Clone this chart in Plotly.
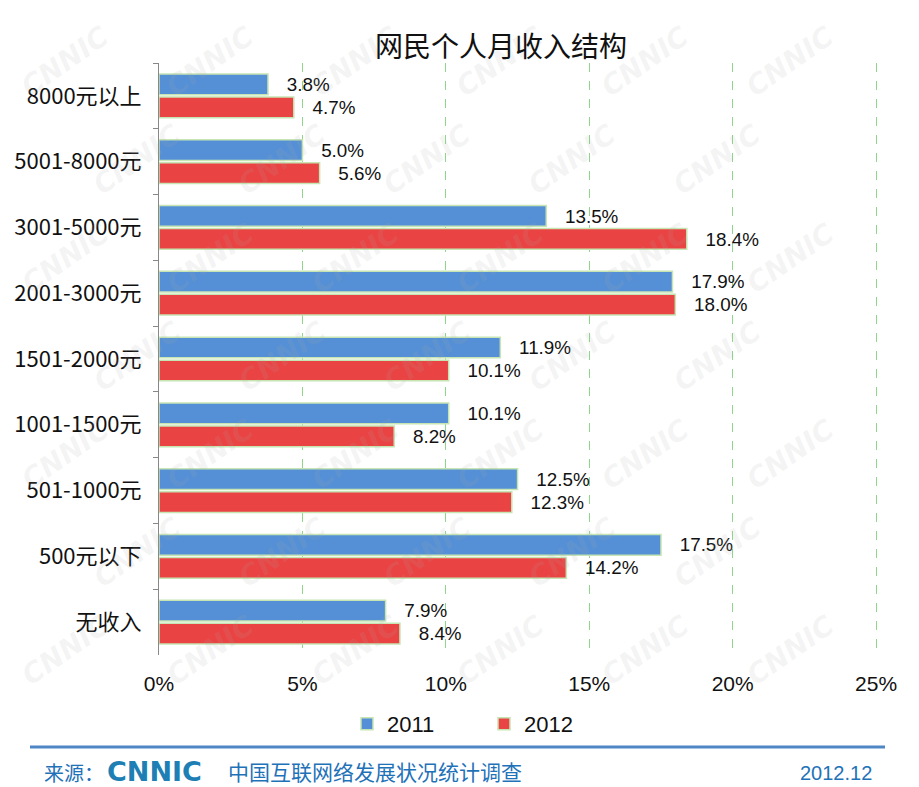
import plotly.graph_objects as go

categories = ["8000元以上", "5001-8000元", "3001-5000元", "2001-3000元", "1501-2000元",
              "1001-1500元", "501-1000元", "500元以下", "无收入"]
values_2011 = [3.8, 5.0, 13.5, 17.9, 11.9, 10.1, 12.5, 17.5, 7.9]
values_2012 = [4.7, 5.6, 18.4, 18.0, 10.1, 8.2, 12.3, 14.2, 8.4]
tick_vals = [0, 5, 10, 15, 20, 25]
tick_text = ["0%", "5%", "10%", "15%", "20%", "25%"]

# page body has an 8px margin; the figure is sized to fill the rest
OFF = 8
W, H = 919 - OFF, 787 - OFF
PL, PR, PT, PB = 159, 879, 63, 655  # plot area in screen pixels


def px(X):
    return (X - PL) / (PR - PL)


def py(Y):
    return (PB - Y) / (PB - PT)


fig = go.Figure()
outline = "#c6e5b3"
lab_font = dict(size=20, color="#111", family="Liberation Sans, Arial")
fig.add_trace(go.Bar(
    name="2011", y=categories, x=values_2011, orientation="h",
    marker=dict(color="#5590d6", line=dict(color=outline, width=1.5)),
    text=[f"   {v:.1f}%" for v in values_2011], textposition="outside",
    textfont=lab_font, cliponaxis=False,
))
fig.add_trace(go.Bar(
    name="2012", y=categories, x=values_2012, orientation="h",
    marker=dict(color="#ea4343", line=dict(color=outline, width=1.5)),
    text=[f"   {v:.1f}%" for v in values_2012], textposition="outside",
    textfont=lab_font, cliponaxis=False,
))

# watermark
annotations = []
for row in range(0, 8):
    for col in range(0, 7):
        X = col * 145 + (row % 2) * 72 + 65
        Y = row * 98 + 62
        if X > 860 or Y > 745:
            continue
        annotations.append(dict(
            text="<b><i>CNNIC</i></b>", x=px(X), y=py(Y), xref="paper", yref="paper",
            xanchor="center", yanchor="middle", showarrow=False, textangle=-35,
            font=dict(size=28, color="rgba(170,170,170,0.13)", family="DejaVu Sans"),
        ))

annotations += [
    dict(text="网民个人月收入结构", xref="paper", yref="paper", x=px(501), y=py(45),
         xanchor="center", yanchor="middle", showarrow=False,
         font=dict(size=28, color="#111", family="Noto Sans CJK SC")),
    dict(text="来源：", xref="paper", yref="paper", x=px(43), y=py(772),
         xanchor="left", yanchor="middle", showarrow=False, borderpad=0,
         font=dict(size=20, color="#1f72b8", family="Noto Sans CJK SC")),
    dict(text="<b>CNNIC</b>", xref="paper", yref="paper", x=px(106), y=py(771),
         xanchor="left", yanchor="middle", showarrow=False, borderpad=0,
         font=dict(size=27, color="#1e7fb5", family="DejaVu Sans")),
    dict(text="中国互联网络发展状况统计调查", xref="paper", yref="paper", x=px(227), y=py(771),
         xanchor="left", yanchor="middle", showarrow=False, borderpad=0,
         font=dict(size=21, color="#1f72b8", family="Noto Sans CJK SC")),
    dict(text="2012.12", xref="paper", yref="paper", x=px(873), y=py(773),
         xanchor="right", yanchor="middle", showarrow=False, borderpad=0,
         font=dict(size=20, color="#1f72b8", family="Liberation Sans, Arial")),
]

shapes = [dict(type="line", xref="paper", yref="paper", x0=px(30), x1=px(885),
               y0=py(747), y1=py(747), line=dict(color="#4f86c6", width=3))]

fig.update_layout(
    width=W, height=H,
    margin=dict(l=PL - OFF, r=919 - PR, t=PT - OFF, b=787 - PB, autoexpand=False),
    paper_bgcolor="white", plot_bgcolor="white",
    barmode="group", bargap=0.3, bargroupgap=0.1,
    font=dict(family="Liberation Sans, Arial", size=18, color="#111"),
    xaxis=dict(range=[0, 25.1], tickvals=tick_vals, ticktext=tick_text,
               showgrid=True, gridcolor="#8fd68a", griddash="dash", gridwidth=1,
               zeroline=False, showline=False, ticks="",
               tickfont=dict(size=21, family="Liberation Sans, Arial", color="#111"),
               ticklabelstandoff=14),
    yaxis=dict(autorange="reversed", showline=True, linecolor="#888", linewidth=1,
               ticks="outside", tickson="boundaries", ticklen=5, tickcolor="#888",
               tickfont=dict(size=22, family="Noto Sans CJK SC", color="#111"),
               ticklabelstandoff=12),
    legend=dict(orientation="h", xref="paper", yref="container",
                x=px(484), xanchor="center", y=1 - (724 - OFF) / H, yanchor="middle",
                font=dict(size=22, family="Liberation Sans, Arial"),
                entrywidth=92, itemwidth=30, traceorder="normal"),
    annotations=annotations, shapes=shapes,
)
fig.write_html("out.html")
